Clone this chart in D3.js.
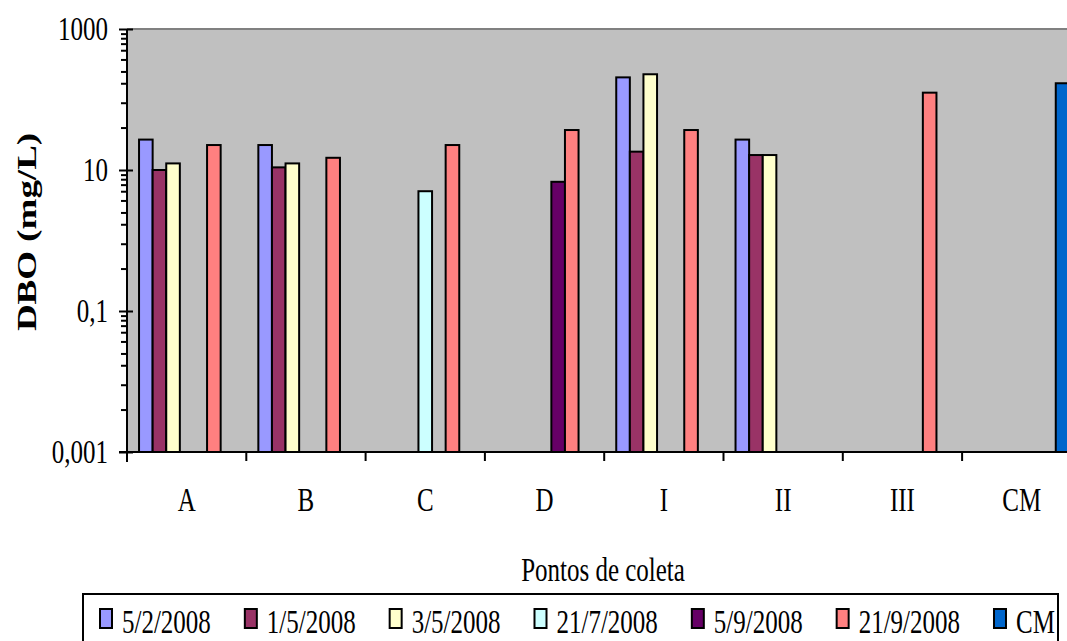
<!DOCTYPE html>
<html>
<head>
<meta charset="utf-8">
<script src="https://cdn.jsdelivr.net/npm/d3@7"></script>
<style>
  body { margin: 0; background: #fff; }
  text { font-family: "Liberation Serif", "Times New Roman", serif; fill: #000; }
</style>
</head>
<body>
<div id="chart"></div>
<script>
// categories and series
var categories = ["A", "B", "C", "D", "I", "II", "III", "CM"];
var seriesNames = ["5/2/2008", "1/5/2008", "3/5/2008", "21/7/2008", "5/9/2008", "21/9/2008", "CM"];
var seriesColors = ["#9999FF", "#993366", "#FFFFCC", "#CCFFFF", "#660066", "#FF8080", "#0066CC"];

// DBO values (mg/L) per category, null = no bar
var feb5 = [27, 22.6, null, null, 206, 27, null, null];
var may1 = [10, 10.9, null, null, 18.2, 16.3, null, null];
var may3 = [12.4, 12.4, null, null, 228, 16.3, null, null];
var jul21 = [null, null, 5.0, null, null, null, null, null];
var sep5 = [null, null, null, 6.8, null, null, null, null];
var sep21 = [22.6, 14.9, 22.6, 36.9, 36.9, null, 125, null];
var cm = [null, null, null, null, null, null, null, 170];
var seriesValues = [feb5, may1, may3, jul21, sep5, sep21, cm];

var yTicks = [0.001, 0.1, 10, 1000];
var yTickLabels = ["0,001", "0,1", "10", "1000"];
var minorSteps = [4, 9, 17, 25, 37, 50, 62, 74, 86];

var W = 1067, H = 641;
var SX = 0.735; // text in the picture is squeezed horizontally
var FS = 34;

var plotLeft = 127, plotTop = 29, plotBottom = 452, catW = 119.3;

var svg = d3.select("#chart").append("svg")
    .attr("width", W)
    .attr("height", H);

var x0 = d3.scaleBand()
    .domain(categories)
    .range([plotLeft, plotLeft + catW * categories.length]);

var x1 = d3.scaleBand()
    .domain(seriesNames)
    .range([0, x0.bandwidth()])
    .paddingInner(0)
    .paddingOuter(0.885);

var y = d3.scaleLog()
    .domain([0.001, 1000])
    .range([plotBottom, plotTop]);

function sText(parent, x, y, str, anchor, size, weight, rotate) {
    var g = parent.append("g")
        .attr("transform", `translate(${x},${y}) scale(${SX},1)` + (rotate ? " rotate(-90)" : ""));
    return g.append("text")
        .attr("text-anchor", anchor)
        .style("font-size", size + "px")
        .style("font-weight", weight || "normal")
        .text(str);
}

// plot area
svg.append("rect")
    .attr("x", plotLeft)
    .attr("y", plotTop)
    .attr("width", W - plotLeft)
    .attr("height", plotBottom - plotTop)
    .attr("fill", "#C0C0C0");
svg.append("line")
    .attr("x1", plotLeft).attr("x2", W)
    .attr("y1", plotTop).attr("y2", plotTop)
    .attr("stroke", "#808080")
    .attr("stroke-width", 2);

// bars
var bars = [];
seriesValues.forEach((vals, si) => {
    vals.forEach((v, ci) => {
        if (v != null) bars.push({ s: si, c: categories[ci], v: v });
    });
});

svg.append("g")
    .selectAll("rect")
    .data(bars)
    .enter()
    .append("rect")
    .attr("x", d => x0(d.c) + x1(seriesNames[d.s]))
    .attr("y", d => y(d.v))
    .attr("width", x1.bandwidth())
    .attr("height", d => plotBottom - y(d.v))
    .attr("fill", d => seriesColors[d.s])
    .attr("stroke", "#000")
    .attr("stroke-width", 2);

// y axis: minor ticks
var minorTicks = [];
yTicks.slice(0, -1).forEach(m => minorSteps.forEach(k => minorTicks.push(m * k)));

var yMinor = svg.append("g")
    .attr("transform", `translate(${plotLeft},0)`)
    .call(d3.axisLeft(y).tickValues(minorTicks).tickSize(6).tickFormat(""));
yMinor.select(".domain").remove();
yMinor.selectAll(".tick line").attr("stroke-width", 2);

var yMajor = svg.append("g")
    .attr("transform", `translate(${plotLeft},0)`)
    .call(d3.axisLeft(y).tickValues(yTicks).tickSize(8).tickFormat(""));
yMajor.select(".domain").remove();
yMajor.selectAll(".tick line").attr("x1", 6).attr("stroke-width", 2);

yTicks.forEach((t, i) => {
    sText(svg, 108, y(t) + 11, yTickLabels[i], "end", FS);
});

// axis lines
svg.append("line")
    .attr("x1", plotLeft).attr("x2", plotLeft)
    .attr("y1", plotTop).attr("y2", plotBottom + 10)
    .attr("stroke", "#000").attr("stroke-width", 2);
svg.append("line")
    .attr("x1", plotLeft - 8).attr("x2", W)
    .attr("y1", plotBottom).attr("y2", plotBottom)
    .attr("stroke", "#000").attr("stroke-width", 2);

// x ticks at category boundaries
svg.append("g")
    .selectAll("line")
    .data(categories)
    .enter()
    .append("line")
    .attr("x1", d => x0(d)).attr("x2", d => x0(d))
    .attr("y1", plotBottom).attr("y2", plotBottom + 9)
    .attr("stroke", "#000").attr("stroke-width", 2);

categories.forEach(c => {
    sText(svg, x0(c) + x0.bandwidth() / 2, 511, c, "middle", FS);
});

// titles
sText(svg, 603, 581, "Pontos de coleta", "middle", FS);
sText(svg, 36, 232, "DBO (mg/L)", "middle", 37, "bold", true);

// legend
svg.append("rect")
    .attr("x", 83).attr("y", 594)
    .attr("width", 975).attr("height", 80)
    .attr("fill", "#fff")
    .attr("stroke", "#000")
    .attr("stroke-width", 2);

var lx = 100;
seriesNames.forEach((name, i) => {
    svg.append("rect")
        .attr("x", lx).attr("y", 609)
        .attr("width", 12).attr("height", 19)
        .attr("fill", seriesColors[i])
        .attr("stroke", "#000")
        .attr("stroke-width", 2);
    var t = sText(svg, lx + 22, 633, name, "start", FS);
    lx += 22 + t.node().getComputedTextLength() * SX + 34;
});
</script>
</body>
</html>
